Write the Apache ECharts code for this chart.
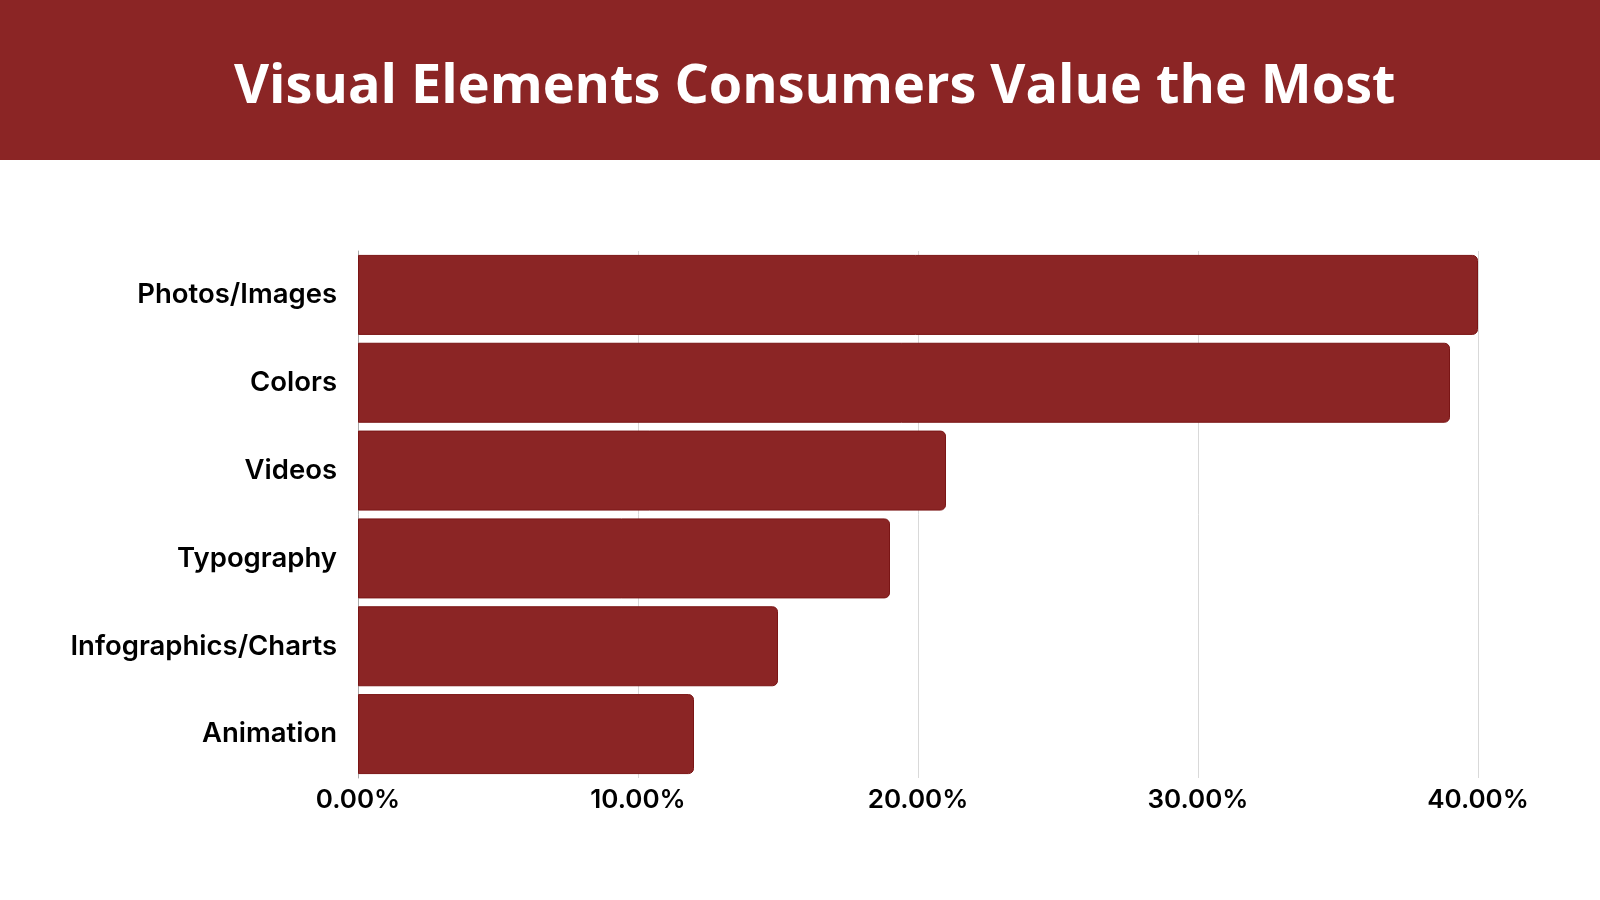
<!DOCTYPE html>
<html><head><meta charset="utf-8">
<script src="https://cdn.jsdelivr.net/npm/echarts@6/dist/echarts.min.js"></script>
<style>html,body{margin:0;padding:0;background:#fff}#c{width:1600px;height:900px}</style>
</head><body><div id="c"></div>
<script>
const titleText = 'Visual Elements Consumers Value the Most';
const categories = ['Photos/Images','Colors','Videos','Typography','Infographics/Charts','Animation'];
const values = [40, 39, 21, 19, 15, 12];
const xTicks = [0, 10, 20, 30, 40];

const chart = echarts.init(document.getElementById('c'));
chart.setOption({
  backgroundColor: '#ffffff',
  animation: false,
  graphic: [{
    type: 'rect', left: 0, top: 0, z: -1,
    shape: { width: 1600, height: 160 },
    style: { fill: '#8B2525' }
  }],
  title: {
    text: titleText, left: 229, top: 56,
    textStyle: { color: '#ffffff', fontFamily: 'Open Sans', fontWeight: 700, fontSize: 54 }
  },
  grid: { left: 358, right: 122, top: 251, bottom: 122, containLabel: false },
  xAxis: {
    type: 'value', min: xTicks[0], max: xTicks[xTicks.length-1], interval: 10,
    axisLine: { show: false }, axisTick: { show: false },
    splitLine: { lineStyle: { color: '#d9d9d9', width: 1 } },
    axisLabel: {
      margin: 9, color: '#000', fontFamily: 'Inter', fontWeight: 600, fontSize: 26,
      formatter: v => v.toFixed(2) + '%'
    }
  },
  yAxis: {
    type: 'category', inverse: true, data: categories,
    axisLine: { show: true, lineStyle: { color: '#aaaaaa', width: 1 } },
    axisTick: { show: false },
    axisLabel: { margin: 21, color: '#000', fontFamily: 'Inter', fontWeight: 600, fontSize: 27.5 }
  },
  series: [{
    type: 'bar', data: values, barWidth: 80,
    itemStyle: { color: '#8B2525', borderColor: '#7a1515', borderWidth: 1, borderRadius: [0, 5, 5, 0] }
  }]
});
</script></body></html>
